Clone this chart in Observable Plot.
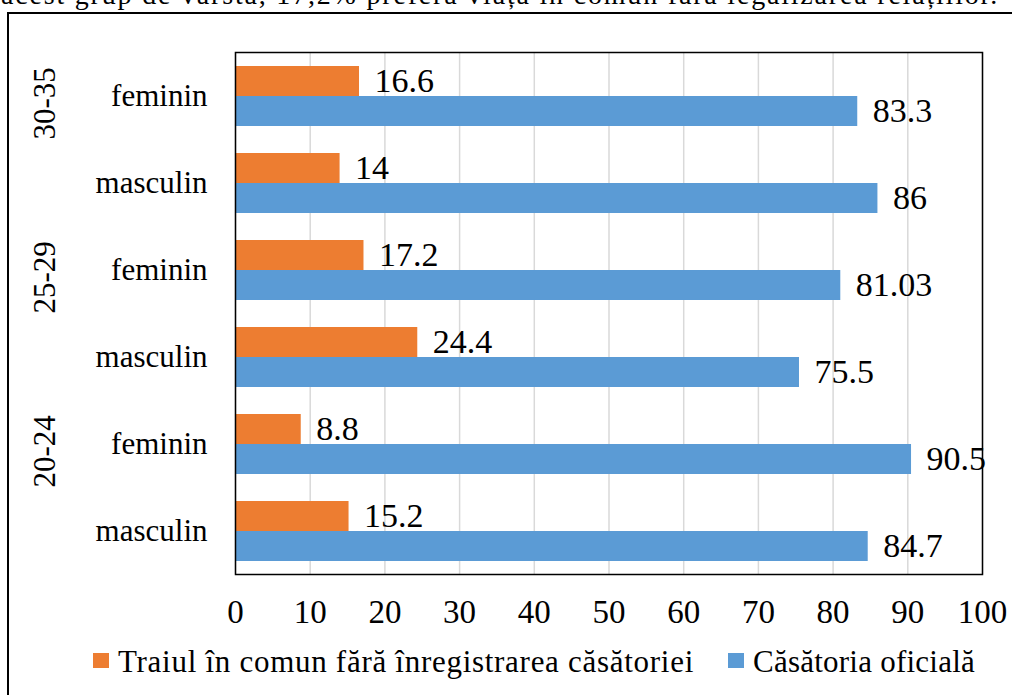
<!DOCTYPE html>
<html>
<head>
<meta charset="utf-8">
<script src="https://cdn.jsdelivr.net/npm/d3@7"></script>
<script src="https://cdn.jsdelivr.net/npm/@observablehq/plot@0.6"></script>
<style>
  html, body { margin: 0; padding: 0; background: #fff; width: 1012px; height: 695px; overflow: hidden; }
  body { position: relative; font-family: "Liberation Serif", "Tinos", "DejaVu Serif", "Noto Serif", serif; color: #000; }
  #toptext { position: absolute; left: 1px; top: -22px; font-size: 28px; line-height: 34px; white-space: nowrap; }
  #box { position: absolute; left: 7px; top: 12px; width: 1020px; height: 720px; border: 2.5px solid #000; box-sizing: border-box; }
  #chart { position: absolute; left: 0; top: 0; }
  .leg { position: absolute; font-size: 31px; line-height: 30px; white-space: nowrap; }
  .sw { position: absolute; width: 16px; height: 15px; }
  #chart svg text { font-family: "Liberation Serif", "Tinos", "DejaVu Serif", "Noto Serif", serif; }
</style>
</head>
<body>
<div id="toptext"></div>
<div id="box"></div>
<div id="chart"></div>
<div id="legend"></div>
<script>
// ---- data ----
const topText = "acest grup de vârstă, 17,2% preferă viața în comun fără legalizarea relațiilor.";
const groups = ["30-35", "30-35", "25-29", "25-29", "20-24", "20-24"];
const genders = ["feminin", "masculin", "feminin", "masculin", "feminin", "masculin"];
const traiul = [16.6, 14, 17.2, 24.4, 8.8, 15.2];
const casatoria = [83.3, 86, 81.03, 75.5, 90.5, 84.7];
const seriesNames = ["Traiul în comun fără înregistrarea căsătoriei", "Căsătoria oficială"];
const colors = ["#ED7D31", "#5B9BD5"];
const xTicks = [0, 10, 20, 30, 40, 50, 60, 70, 80, 90, 100];

// top (cut-off) paragraph line, spread to the reference width
const tt = document.getElementById("toptext");
tt.textContent = topText;
{
  const w = tt.getBoundingClientRect().width;
  const target = 998;
  tt.style.letterSpacing = ((target - w) / topText.length) + "px";
}

const keys = groups.map((g, i) => g + " " + genders[i]);
const rows = [];
keys.forEach((k, i) => {
  rows.push({key: k, series: seriesNames[0], value: traiul[i], label: String(traiul[i])});
  rows.push({key: k, series: seriesNames[1], value: casatoria[i], label: String(casatoria[i])});
});
const genderOf = Object.fromEntries(keys.map((k, i) => [k, genders[i]]));
const groupRows = [];
groups.forEach((g, i) => { if (i === 0 || groups[i - 1] !== g) groupRows.push({key: keys[i], group: g}); });

const FONT = "'Liberation Serif', Tinos, 'DejaVu Serif', 'Noto Serif', serif";

const chart = Plot.plot({
  width: 1012,
  height: 630,
  marginTop: 49,
  marginBottom: 54,
  marginLeft: 235,
  marginRight: 30,
  style: {fontFamily: FONT, fontSize: "31px", color: "#000", background: "transparent", overflow: "visible"},
  x: {domain: [0, 100], ticks: xTicks, tickSize: 0, tickPadding: 25, label: null},
  fy: {domain: keys, padding: 0, label: null, axis: "left", tickSize: 0, tickPadding: 28, tickFormat: k => genderOf[k]},
  y: {domain: seriesNames, paddingInner: 0, paddingOuter: 0.416, axis: null},
  color: {domain: seriesNames, range: colors},
  marks: [
    Plot.gridX(xTicks, {stroke: "#d9d9d9", strokeOpacity: 1, strokeWidth: 1.5}),
    Plot.barX(rows, {x: "value", y: "series", fy: "key", fill: "series"}),
    Plot.text(rows, {x: "value", y: "series", fy: "key", text: "label", textAnchor: "start", dx: 15, dy: 0, fontSize: 34, fill: "#000"}),
    Plot.text(groupRows, {fy: "key", text: "group", frameAnchor: "bottom-left", rotate: -90, dx: -181, fontSize: 31, fill: "#000"}),
    Plot.axisX(xTicks, {tickSize: 0, tickPadding: 25, fontSize: 33, label: null}),
    Plot.frame({facet: "super", stroke: "#000", strokeWidth: 1.5})
  ]
});
document.getElementById("chart").appendChild(chart);

// legend
const legend = document.getElementById("legend");
const legPos = [{sx: 93, tx: 118, w: 576}, {sx: 728, tx: 753, w: 222}];
seriesNames.forEach((s, i) => {
  const sw = document.createElement("div");
  sw.className = "sw";
  sw.style.left = legPos[i].sx + "px";
  sw.style.top = "653px";
  sw.style.background = colors[i];
  legend.appendChild(sw);
  const t = document.createElement("div");
  t.className = "leg";
  t.style.left = legPos[i].tx + "px";
  t.style.top = "647px";
  t.textContent = s;
  legend.appendChild(t);
  const w = t.getBoundingClientRect().width;
  if (w < legPos[i].w) t.style.letterSpacing = ((legPos[i].w - w) / s.length) + "px";
});
</script>
</body>
</html>
